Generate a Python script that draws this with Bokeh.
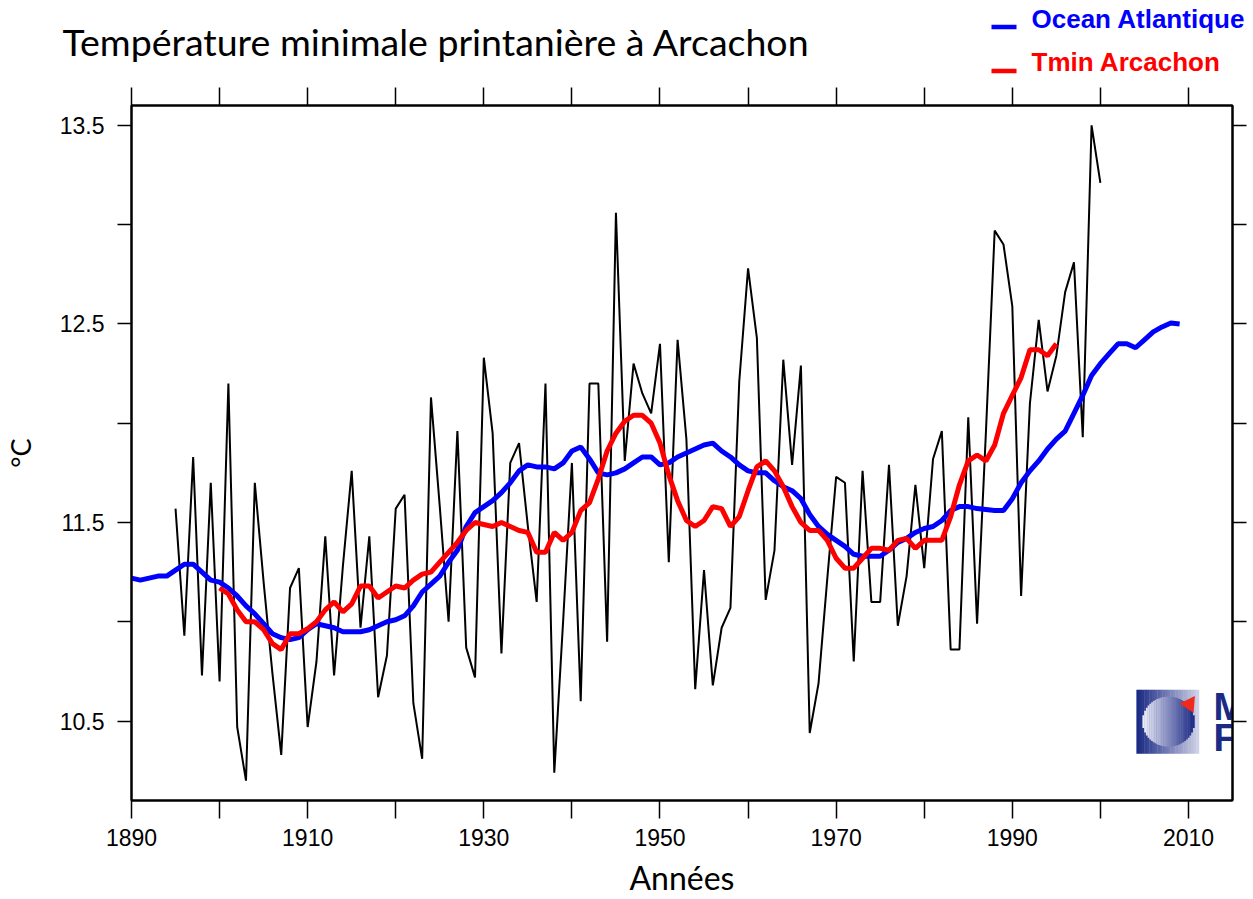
import math
from bokeh.plotting import figure
from bokeh.layouts import column
from bokeh.models import Range1d, LinearAxis, FixedTicker
from bokeh.embed import file_html
from bokeh.resources import INLINE
from bokeh.core.properties import value

# ---------------- data ----------------
obs_years = list(range(1895, 2001))
tmin_obs = [
    11.57, 10.93, 11.83, 10.73, 11.70,                                  # 1895-1899
    10.70, 12.20, 10.47, 10.20, 11.70, 11.20, 10.74, 10.33, 11.17, 11.27,  # 1900s
    10.47, 10.80, 11.43, 10.73, 11.28, 11.76, 10.97, 11.43, 10.62, 10.83,  # 1910s
    11.57, 11.64, 10.59, 10.31, 12.13, 11.58, 11.00, 11.96, 10.87, 10.72,  # 1920s
    12.33, 11.95, 10.84, 11.80, 11.90, 11.48, 11.10, 12.20, 10.24, 11.00,  # 1930s
    11.80, 10.60, 12.20, 12.20, 10.90, 13.06, 11.81, 12.30, 12.15, 12.05,  # 1940s
    12.40, 11.30, 12.42, 11.92, 10.66, 11.26, 10.68, 10.97, 11.07, 12.21,  # 1950s
    12.78, 12.43, 11.11, 11.36, 12.32, 11.79, 12.29, 10.44, 10.69, 11.22,  # 1960s
    11.73, 11.70, 10.80, 11.76, 11.10, 11.10, 11.79, 10.98, 11.23, 11.69,  # 1970s
    11.27, 11.82, 11.96, 10.86, 10.86, 12.03, 10.99, 11.95, 12.97, 12.90,  # 1980s
    12.59, 11.13, 12.10, 12.52, 12.16, 12.34, 12.66, 12.81, 11.93, 13.50,  # 1990s
    13.21,                                                              # 2000
]

ocean_years = list(range(1890, 2010))
ocean_smooth = [
    11.22, 11.21, 11.22, 11.23, 11.23, 11.26, 11.29, 11.29, 11.25, 11.21,
    11.20, 11.17, 11.13, 11.08, 11.04, 10.99, 10.94, 10.92, 10.91, 10.92,
    10.96, 10.99, 10.98, 10.97, 10.95, 10.95, 10.95, 10.96, 10.98, 11.00,
    11.01, 11.03, 11.08, 11.15, 11.19, 11.23, 11.30, 11.36, 11.48, 11.55,
    11.58, 11.61, 11.65, 11.70, 11.76, 11.79, 11.78, 11.78, 11.77, 11.80,
    11.86, 11.88, 11.82, 11.75, 11.74, 11.75, 11.77, 11.80, 11.83, 11.83,
    11.79, 11.80, 11.83, 11.85, 11.87, 11.89, 11.90, 11.86, 11.83, 11.79,
    11.76, 11.75, 11.75, 11.71, 11.68, 11.66, 11.62, 11.54, 11.48, 11.44,
    11.41, 11.38, 11.34, 11.33, 11.33, 11.33, 11.36, 11.40, 11.42, 11.45,
    11.47, 11.48, 11.51, 11.56, 11.58, 11.58, 11.57, 11.565, 11.56, 11.56,
    11.62, 11.70, 11.76, 11.81, 11.87, 11.92, 11.96, 12.05, 12.14, 12.24,
    12.30, 12.35, 12.40, 12.40, 12.38, 12.42, 12.46, 12.485, 12.505, 12.50,
]

tmin_smooth_years = list(range(1900, 1996))
tmin_smooth = [
    11.17, 11.14, 11.06, 11.00, 11.00, 10.96, 10.89, 10.86, 10.94, 10.94,
    10.965, 11.00, 11.06, 11.10, 11.05, 11.09, 11.18, 11.18, 11.12, 11.15,
    11.18, 11.17, 11.21, 11.24, 11.25, 11.30, 11.35, 11.40, 11.46, 11.50,
    11.49, 11.48, 11.50, 11.48, 11.46, 11.45, 11.35, 11.35, 11.45, 11.41,
    11.45, 11.56, 11.60, 11.72, 11.86, 11.95, 12.01, 12.04, 12.04, 12.00,
    11.90, 11.74, 11.61, 11.51, 11.48, 11.51, 11.58, 11.57, 11.48, 11.53,
    11.66, 11.78, 11.81, 11.76, 11.68, 11.58, 11.50, 11.46, 11.46, 11.41,
    11.32, 11.27, 11.27, 11.32, 11.37, 11.37, 11.36, 11.41, 11.42, 11.37,
    11.41, 11.41, 11.41, 11.53, 11.69, 11.81, 11.84, 11.81, 11.89, 12.05,
    12.14, 12.23, 12.37, 12.37, 12.34, 12.40,
]

x_major = [1890, 1910, 1930, 1950, 1970, 1990, 2010]
x_minor = [1900, 1920, 1940, 1960, 1980, 2000]
y_major = [10.5, 11.5, 12.5, 13.5]
y_minor = [11.0, 12.0, 13.0]

title_text = "Température minimale printanière à Arcachon"
legend_labels = ["Ocean Atlantique", "Tmin Arcachon"]
legend_colors = ["#0000ff", "#ff0000"]
xlabel_text = "Années"
ylabel_text = "°C"

W = 1253
HEAD_H = 87
MAIN_H = 812

# ---------------- header (title + legend) ----------------
head = figure(width=W, height=HEAD_H, x_range=Range1d(0, W),
              y_range=Range1d(HEAD_H, 0), output_backend="svg",
              toolbar_location=None, x_axis_location=None,
              y_axis_location=None, min_border=0)
head.frame_align = False
head.grid.visible = False
head.outline_line_color = None
head.text(x=[62], y=[41], text=[title_text], text_font=value("Lato"),
          text_font_size="37.5px", text_color="black",
          text_baseline="alphabetic", text_align="left")
leg_text_y = [18.7, 61.5]
leg_dash_y = [26.4, 70.5]
head.text(x=[1031, 1031], y=leg_text_y, text=legend_labels,
          text_font=value("Liberation Sans"), text_font_size="26px",
          text_font_style="bold", text_color=legend_colors,
          text_baseline="alphabetic", text_align="left")
head.segment(x0=[991, 991], y0=leg_dash_y, x1=[1016, 1016], y1=leg_dash_y,
             line_color=legend_colors, line_width=4.5)

# ---------------- main figure ----------------
p = figure(width=W, height=MAIN_H,
           x_range=Range1d(1890, 2015), y_range=Range1d(10.1, 13.6),
           output_backend="svg", toolbar_location=None,
           min_border_left=130, min_border_right=21,
           min_border_top=18, min_border_bottom=98)
p.frame_align = False
p.grid.visible = False
p.outline_line_color = "black"
p.outline_line_width = 2

TICK_FONT = "Liberation Sans"


def style_axis(ax, major, minor, tick_len, show_labels):
    ax.ticker = FixedTicker(ticks=major, minor_ticks=minor)
    ax.axis_line_color = "black"
    ax.axis_line_width = 2
    ax.major_tick_out = tick_len
    ax.major_tick_in = 0
    ax.minor_tick_out = tick_len
    ax.minor_tick_in = 0
    ax.major_tick_line_width = 1.5
    ax.minor_tick_line_width = 1.5
    ax.major_tick_line_color = "black"
    ax.minor_tick_line_color = "black"
    if show_labels:
        ax.major_label_text_font = TICK_FONT
        ax.major_label_text_font_size = "23px"
        ax.major_label_text_color = "black"
    else:
        ax.major_label_text_font_size = "0px"
        ax.major_label_text_color = None
        ax.major_label_standoff = 0


bottom_axis = p.below[0]
left_axis = p.left[0]
style_axis(bottom_axis, x_major, x_minor, 18, True)
style_axis(left_axis, y_major, y_minor, 14, True)
bottom_axis.major_label_standoff = 10
left_axis.major_label_standoff = 13

bottom_axis.axis_label = xlabel_text
bottom_axis.axis_label_text_font = "Lato"
bottom_axis.axis_label_text_font_size = "32px"
bottom_axis.axis_label_text_font_style = "normal"
bottom_axis.axis_label_text_color = "black"
bottom_axis.axis_label_standoff = 9

left_axis.axis_label = ylabel_text
left_axis.axis_label_text_font = "Lato"
left_axis.axis_label_text_font_size = "27px"
left_axis.axis_label_text_font_style = "normal"
left_axis.axis_label_text_color = "black"
left_axis.axis_label_standoff = 20

top_axis = LinearAxis()
style_axis(top_axis, x_major, x_minor, 18, False)
p.add_layout(top_axis, "above")
right_axis = LinearAxis()
style_axis(right_axis, y_major, y_minor, 14, False)
p.add_layout(right_axis, "right")

# ---------------- series ----------------
p.line(obs_years, tmin_obs, line_color="black", line_width=2)
p.line(ocean_years, ocean_smooth, line_color="#0000ff", line_width=5)
p.line(tmin_smooth_years, tmin_smooth, line_color="#ff0000", line_width=5)

# ---------------- logo (decoration, Météo-France) ----------------
LOGO_X0, LOGO_X1 = 2004.11, 2011.2
LOGO_Y0, LOGO_Y1 = 10.336, 10.658
n = 24
w = (LOGO_X1 - LOGO_X0) / n
sx, sc = [], []
for i in range(n):
    t = i / (n - 1)
    r = int(27 + (205 - 27) * t)
    g = int(42 + (208 - 42) * t)
    b = int(132 + (230 - 132) * t)
    sx.append(LOGO_X0 + (i + 0.5) * w)
    sc.append("#%02x%02x%02x" % (r, g, b))
p.rect(x=sx, y=[(LOGO_Y0 + LOGO_Y1) / 2] * n, width=w * 1.15,
       height=LOGO_Y1 - LOGO_Y0, fill_color=sc, line_color=None)

CX, CY, RX, RY = 2007.74, 10.497, 2.95, 0.126
m = 30
cw = 2 * RX / m
cx, ch, cc = [], [], []
for i in range(m):
    dx = -RX + (i + 0.5) * cw
    t = i / (m - 1)
    r = int(238 + (27 - 238) * t)
    g = int(238 + (42 - 238) * t)
    b = int(248 + (132 - 248) * t)
    cx.append(CX + dx)
    ch.append(2 * RY * math.sqrt(max(0.0, 1 - (dx / RX) ** 2)))
    cc.append("#%02x%02x%02x" % (r, g, b))
p.rect(x=cx, y=[CY] * m, width=cw * 1.15, height=ch, fill_color=cc,
       line_color=None)
p.scatter(x=[2010.1], y=[10.585], marker="triangle", size=17, angle=-0.6,
          fill_color="#ee2a1e", line_color=None)
p.text(x=[2012.85, 2012.85], y=[10.570, 10.414], text=["M", "FR"],
       text_font=value("Liberation Sans"), text_font_size="38px",
       text_font_style="bold", text_color="#1b2a84",
       text_baseline="alphabetic")

layout = column(head, p, spacing=0)
open("out.html", "w").write(file_html(layout, INLINE))
